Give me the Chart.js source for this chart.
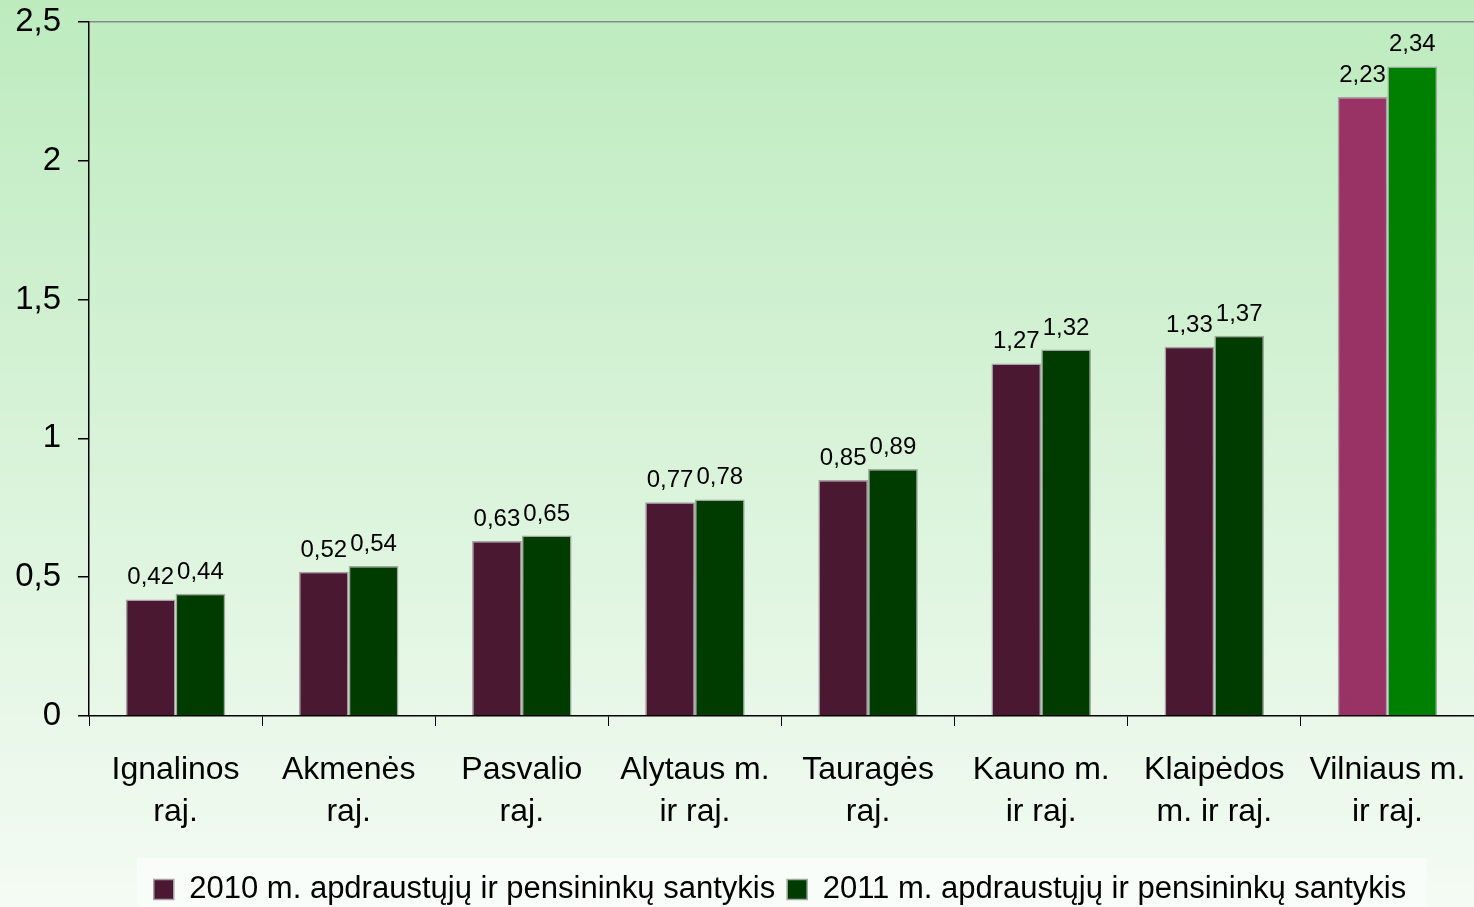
<!DOCTYPE html>
<html>
<head>
<meta charset="utf-8">
<script src="https://cdn.jsdelivr.net/npm/chart.js@4"></script>
<style>
  html, body { margin: 0; padding: 0; overflow: hidden; }
  #wrap { width: 1474px; height: 907px; }
</style>
</head>
<body>
<div id="wrap"><canvas id="chart"></canvas></div>
<script>
// data
const categories = [
  ["Ignalinos", "raj."],
  ["Akmenės", "raj."],
  ["Pasvalio", "raj."],
  ["Alytaus m.", "ir raj."],
  ["Tauragės", "raj."],
  ["Kauno m.", "ir raj."],
  ["Klaipėdos", "m. ir raj."],
  ["Vilniaus m.", "ir raj."],
];
const ratio2010 = [0.42, 0.52, 0.63, 0.77, 0.85, 1.27, 1.33, 2.23];
const ratio2011 = [0.44, 0.54, 0.65, 0.78, 0.89, 1.32, 1.37, 2.34];
const yTicks = [0, 0.5, 1, 1.5, 2, 2.5];

const FONT = "'Liberation Sans', Arial, sans-serif";
const comma = (v, d) => (d == null ? String(v) : v.toFixed(d)).replace(".", ",");

// background gradient + white box behind legend
const backdrop = {
  id: "backdrop",
  afterLayout(chart) {
    // legend sits a bit right of centre and low in the original
    const lg = chart.legend;
    lg.left += 43; lg.right += 43;
    lg.top += 8; lg.bottom += 8;
  },
  beforeDraw(chart) {
    const { ctx, width, height } = chart;
    const g = ctx.createLinearGradient(0, 0, 0, height);
    g.addColorStop(0, "#bdebbe");
    g.addColorStop(1, "#f4fbf4");
    ctx.save();
    ctx.fillStyle = g;
    ctx.fillRect(0, 0, width, height);
    ctx.fillStyle = "#f9fdf9";
    ctx.fillRect(137, 858, 1290, height - 858);
    ctx.restore();
  },
};

// value labels above bars
const valueLabels = {
  id: "valueLabels",
  afterDatasetsDraw(chart) {
    const { ctx } = chart;
    ctx.save();
    ctx.font = "24px " + FONT;
    ctx.fillStyle = "#000";
    ctx.textAlign = "center";
    ctx.textBaseline = "alphabetic";
    chart.data.datasets.forEach((ds, i) => {
      chart.getDatasetMeta(i).data.forEach((bar, j) => {
        ctx.fillText(comma(ds.data[j], 2), bar.x, bar.y - 15);
      });
    });
    ctx.restore();
  },
};

new Chart(document.getElementById("chart"), {
  type: "bar",
  data: {
    labels: categories,
    datasets: [
      {
        label: "2010 m. apdraustųjų ir pensininkų santykis",
        data: ratio2010,
        backgroundColor: c => (c.dataIndex === 7 ? "#993366" : "#4a1830"),
        borderColor: "#a9a0a6",
        borderWidth: 1.5,
      },
      {
        label: "2011 m. apdraustųjų ir pensininkų santykis",
        data: ratio2011,
        backgroundColor: c => (c.dataIndex === 7 ? "#008000" : "#003c00"),
        borderColor: "#a0a8a0",
        borderWidth: 1.5,
      },
    ],
  },
  options: {
    responsive: true,
    maintainAspectRatio: false,
    animation: false,
    categoryPercentage: 0.575,
    barPercentage: 1,
    layout: { padding: { top: 22, right: 0, left: 0, bottom: 0 } },
    plugins: {
      legend: {
        position: "bottom",
        labels: {
          font: { family: FONT, size: 31 },
          color: "#000",
          boxWidth: 20,
          boxHeight: 20,
          padding: 12,
        },
      },
      tooltip: { enabled: false },
    },
    scales: {
      x: {
        grid: { drawOnChartArea: false, color: "#000", tickLength: 10 },
        border: { color: "#000", width: 1.5 },
        ticks: {
          font: { family: FONT, size: 32, lineHeight: 1.31 },
          color: "#000",
          maxRotation: 0,
          autoSkip: false,
          padding: 23,
        },
        afterFit: s => { s.height = 138; s.paddingLeft = 0; s.paddingRight = 0; },
      },
      y: {
        min: 0,
        max: 2.5,
        afterBuildTicks: s => { s.ticks = yTicks.map(v => ({ value: v })); },
        grid: {
          color: c => (c.tick && c.tick.value === 2.5 ? "#8a8a8a" : "rgba(0,0,0,0)"),
          tickColor: "#000",
          tickLength: 11,
          lineWidth: 1.5,
        },
        border: { color: "#000", width: 1.5 },
        ticks: {
          font: { family: FONT, size: 33 },
          color: "#000",
          padding: 17,
          callback: v => comma(v),
        },
        afterFit: s => { s.width = 89; s.paddingTop = 0; s.paddingBottom = 0; },
      },
    },
  },
  plugins: [backdrop, valueLabels],
});
</script>
</body>
</html>
